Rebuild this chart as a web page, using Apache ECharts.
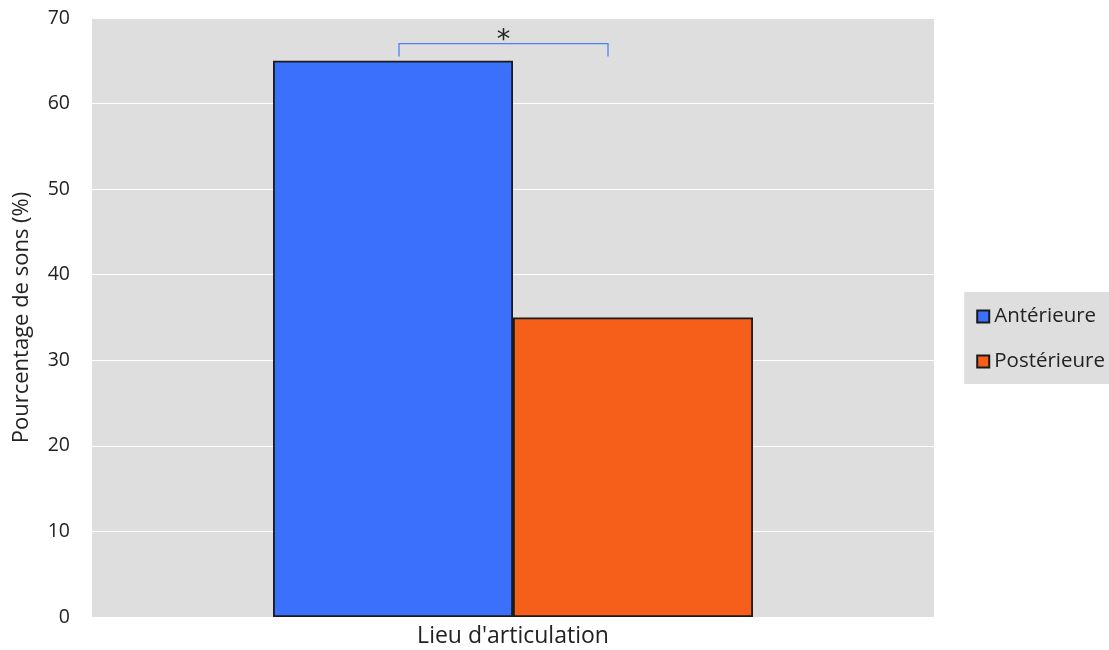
<!DOCTYPE html>
<html><head><meta charset="utf-8">
<script src="https://cdn.jsdelivr.net/npm/echarts@6/dist/echarts.min.js"></script>
<style>html,body{margin:0;padding:0;background:#fff}#c{width:1109px;height:650px}</style>
</head><body><div id="c"></div>
<script>
const categories = ["Lieu d'articulation"];
const seriesNames = ["Antérieure", "Postérieure"];
const anterieure = [65];
const posterieure = [35];
const yTicks = [0, 10, 20, 30, 40, 50, 60, 70];
const bracketLow = 65.5, bracketHigh = 67;
const sigLabel = '*';

const FONT = 'Open Sans';
const chart = echarts.init(document.getElementById('c'));
const option = {
  animation: false,
  textStyle: { fontFamily: FONT },
  grid: { left: 92, right: 175, top: 18, bottom: 33, backgroundColor: '#dedede', show: true, borderWidth: 0 },
  legend: {
    orient: 'vertical', right: 0, top: 292,
    backgroundColor: '#dedede', padding: [14, 4, 12, 12],
    itemWidth: 12, itemHeight: 12, itemGap: 24,
    icon: 'rect',
    textStyle: { fontSize: 20.5, color: '#222', fontFamily: FONT, padding: [0, 0, 0, 0] },
    data: seriesNames
  },
  xAxis: {
    type: 'category', data: categories,
    axisLine: { show: false }, axisTick: { show: false },
    axisLabel: { fontSize: 23, color: '#222', margin: 8, fontFamily: FONT }
  },
  yAxis: {
    type: 'value', min: yTicks[0], max: yTicks[yTicks.length - 1], interval: 10,
    name: 'Pourcentage de sons (%)', nameLocation: 'middle', nameGap: 59,
    nameTextStyle: { fontSize: 22, color: '#222', fontFamily: FONT },
    axisLine: { show: false }, axisTick: { show: false },
    axisLabel: { fontSize: 19.5, color: '#222', margin: 22, fontFamily: FONT },
    splitLine: { lineStyle: { color: '#ffffff', width: 1 } }
  },
  series: [
    { name: seriesNames[0], type: 'bar', data: anterieure, barGap: '0%', barCategoryGap: '43%',
      itemStyle: { color: '#3b70fd', borderColor: '#1a1a1a', borderWidth: 1.8 } },
    { name: seriesNames[1], type: 'bar', data: posterieure,
      itemStyle: { color: '#f65f1a', borderColor: '#1a1a1a', borderWidth: 1.8 } }
  ]
};
chart.setOption(option);

// significance bracket, positioned via the chart's own scales
const xc = chart.convertToPixel({ xAxisIndex: 0 }, categories[0]);
const yHi = chart.convertToPixel({ yAxisIndex: 0 }, bracketHigh);
const yLo = chart.convertToPixel({ yAxisIndex: 0 }, bracketLow);
const x1 = xc - 114, x2 = xc + 95;
chart.setOption({
  graphic: [
    { type: 'polyline', shape: { points: [[x1, yLo], [x1, yHi], [x2, yHi], [x2, yLo]] },
      style: { stroke: '#4f80fb', lineWidth: 1.3, fill: null } },
    { type: 'text', x: (x1 + x2) / 2, y: yHi + 11, style: { text: sigLabel, fontSize: 27, fill: '#222', align: 'center', verticalAlign: 'bottom', fontFamily: 'DejaVu Sans' } }
  ]
});
</script></body></html>
